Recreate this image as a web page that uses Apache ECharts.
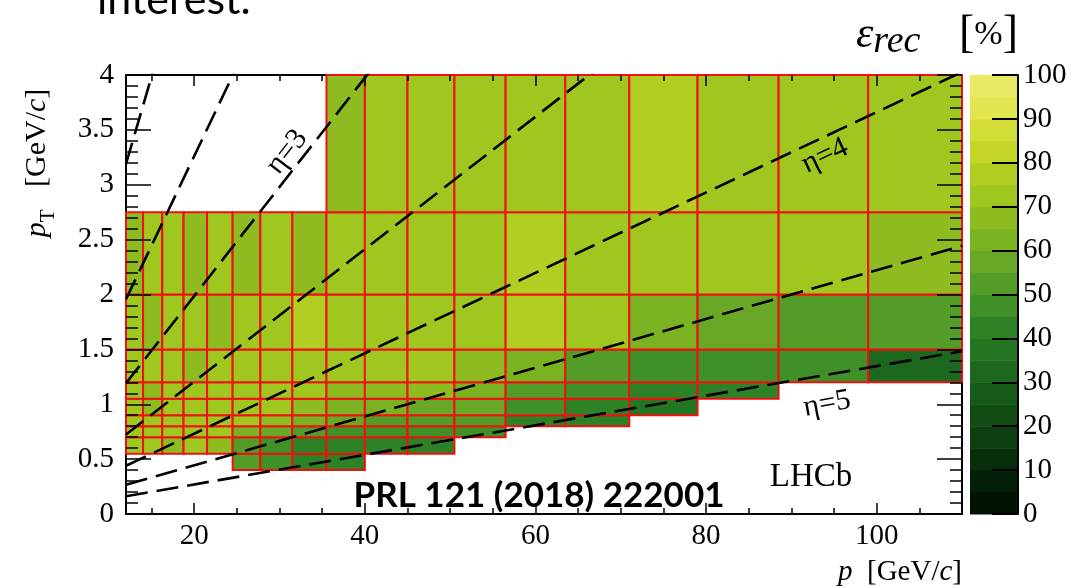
<!DOCTYPE html>
<html>
<head>
<meta charset="utf-8">
<script src="https://cdn.jsdelivr.net/npm/echarts@6/dist/echarts.min.js"></script>
<style>
  html, body { margin: 0; padding: 0; background: #fff; }
  #chart { width: 1071px; height: 587px; }
</style>
</head>
<body>
<div id="chart"></div>
<script>
// Momentum bin edges, p [GeV/c]
const pEdges = [12, 14, 16.25, 18.75, 21.5, 24.5, 27.75, 31.5, 35.5, 40, 45, 50.5, 56.5, 63.5, 71, 79, 88.5, 99, 110];
// Transverse-momentum bin edges, pT [GeV/c]
const ptEdges = [0.4, 0.55, 0.7, 0.8, 0.9, 1.05, 1.2, 1.5, 2.0, 2.75, 4.0];

// Reconstruction efficiency [%]: one row per pT bin (lowest first), one entry per p bin; null = empty bin
const effRows = [
  [null, null, null, null, null, 51, 48, 44, 42, null, null, null, null, null, null, null, null, null],
  [73, 73, 68, 73, 66, 52, 48, 44, 43, 42, 41, null, null, null, null, null, null, null],
  [72, 72, 72, 72, 71, 62, 56, 50, 48, 48, 49, 45, null, null, null, null, null, null],
  [73, 73, 72, 73, 72, 70, 66, 60, 56, 53, 54, 51, 43, 41, null, null, null, null],
  [73, 69, 73, 73, 73, 72, 71, 67, 64, 61, 59, 55, 48, 43, 39, null, null, null],
  [73, 69, 73, 73, 73, 73, 73, 72, 69, 67, 66, 61, 52, 47, 43, 41, null, null],
  [73, 74, 73, 69, 74, 74, 74, 74, 72, 71, 72, 69, 62, 51, 47, 46, 45, 32],
  [74, 68, 70, 74, 69, 74, 74, 75, 74, 74, 74, 74, 75, 72, 64, 57, 52, 51],
  [68, 74, 74, 69, 74, 68, 74, 69, 74, 73, 73, 74, 79, 74, 74, 70, 73, 66],
  [null, null, null, null, null, null, null, null, 67, 73, 73, 74, 74, 73, 77, 74, 74, 72]
];

// Constant-pseudorapidity guide lines: eta value and end points [p, pT]
const etaLines = [
  { eta: 2.0, pts: [[12, 3.19], [110, 29.24]] },
  { eta: 2.5, pts: [[12, 1.957], [110, 17.94]] },
  { eta: 3.0, pts: [[12, 1.192], [110, 10.93]] },
  { eta: 3.5, pts: [[12, 0.724], [110, 6.637]] },
  { eta: 4.0, pts: [[12, 0.4394], [110, 4.028]] },
  { eta: 4.5, pts: [[12, 0.2666], [110, 2.4437]] },
  { eta: 5.0, pts: [[12, 0.1617], [110, 1.4823]] }
];

// Axis tick values
const xMajorTicks = [20, 40, 60, 80, 100];
const xMinorTicks = [15, 25, 30, 35, 45, 50, 55, 65, 70, 75, 85, 90, 95, 105];
// Colour-scale contour levels [%]
const zLevels = [0, 5, 10, 15, 20, 25, 30, 35, 40, 45, 50, 55, 60, 65, 70, 75, 80, 85, 90, 95];

// Contour palette, one colour per 5 % band (dark green -> light yellow)
const palette = ['#021204', '#052008', '#082e0c', '#0c3e10', '#104c14', '#165a1a', '#1c681e', '#247622',
  '#2e8226', '#409028', '#549c28', '#68a826', '#7ab222', '#8ebc20', '#a0c620', '#b2ce23',
  '#c3d628', '#d2de37', '#e2e650', '#e9ea64'];
const bandColor = v => palette[Math.max(0, Math.min(palette.length - 1, Math.floor(v / 5)))];

const SERIF = '"Liberation Serif", "DejaVu Serif", serif';
const SANS = 'Lato, "Open Sans", sans-serif';
const TICK_FONT = 29;

// Cells: [p0, p1, pT0, pT1, eff]
const cells = [];
effRows.forEach((row, j) => {
  row.forEach((v, i) => {
    if (v !== null) cells.push([pEdges[i], pEdges[i + 1], ptEdges[j], ptEdges[j + 1], v]);
  });
});

const X_MIN = 12, X_MAX = 110, Y_MIN = 0, Y_MAX = 4;

function xAxisDef(position, opts) {
  return Object.assign({
    type: 'value', gridIndex: 0, position, min: X_MIN, max: X_MAX,
    splitLine: { show: false },
    axisLine: { show: false, onZero: false },
    axisTick: { show: false },
    axisLabel: { show: false }
  }, opts);
}
function yAxisDef(position, opts) {
  return Object.assign({
    type: 'value', gridIndex: 0, position, min: Y_MIN, max: Y_MAX, interval: 0.5,
    splitLine: { show: false },
    axisLine: { show: false, onZero: false },
    axisTick: { show: false },
    minorTick: { show: false },
    axisLabel: { show: false }
  }, opts);
}
const frameLine = { show: true, onZero: false, lineStyle: { color: '#000', width: 2 } };
const tickStyle = { color: '#000', width: 1.5 };

const xAxes = [];
['bottom', 'top'].forEach(pos => {
  xAxes.push(xAxisDef(pos, {
    z: 1, axisLine: frameLine,
    axisLabel: pos === 'bottom'
      ? { show: true, customValues: xMajorTicks, margin: 8, fontFamily: SERIF, fontSize: TICK_FONT, color: '#000' }
      : { show: false }
  }));
  xAxes.push(xAxisDef(pos, { z: 30, axisTick: { show: true, inside: true, length: 11, customValues: xMajorTicks, lineStyle: tickStyle } }));
  xAxes.push(xAxisDef(pos, { z: 30, axisTick: { show: true, inside: true, length: 6, customValues: xMinorTicks, lineStyle: tickStyle } }));
});
// colour-bar x axis (hidden)
xAxes.push({ type: 'value', gridIndex: 1, min: 0, max: 1, show: false });
const CB_X = xAxes.length - 1;

const yAxes = [];
['left', 'right'].forEach(pos => {
  yAxes.push(yAxisDef(pos, {
    z: 1, axisLine: frameLine,
    axisLabel: pos === 'left'
      ? { show: true, margin: 12, fontFamily: SERIF, fontSize: TICK_FONT, color: '#000' }
      : { show: false }
  }));
  yAxes.push(yAxisDef(pos, {
    z: 30,
    axisTick: { show: true, inside: true, length: 25, lineStyle: tickStyle },
    minorTick: { show: true, splitNumber: 5, length: 12, lineStyle: tickStyle }
  }));
});
// colour-bar axis
yAxes.push({
  type: 'value', gridIndex: 1, position: 'right', min: 0, max: 100, interval: 10,
  splitLine: { show: false },
  axisLine: { show: true, onZero: false, lineStyle: { color: '#000', width: 2 } },
  axisTick: { show: true, inside: true, length: 26, lineStyle: { color: '#000', width: 2 } },
  axisLabel: { show: true, margin: 5, fontFamily: SERIF, fontSize: TICK_FONT, color: '#000' },
  z: 30
});
const CB_Y = yAxes.length - 1;

const series = [
  {
    type: 'custom', name: 'efficiency', xAxisIndex: 0, yAxisIndex: 0, z: 20,
    data: cells,
    encode: { x: [0, 1], y: [2, 3] },
    renderItem(params, api) {
      const a = api.coord([api.value(0), api.value(3)]);
      const b = api.coord([api.value(1), api.value(2)]);
      return {
        type: 'rect',
        shape: { x: a[0], y: a[1], width: b[0] - a[0], height: b[1] - a[1] },
        style: { fill: bandColor(api.value(4)), stroke: '#f01010', lineWidth: 2 }
      };
    }
  },
  {
    type: 'custom', name: 'scale', xAxisIndex: CB_X, yAxisIndex: CB_Y, z: 20,
    data: zLevels.map(l => [l]),
    renderItem(params, api) {
      const lo = api.value(0);
      const a = api.coord([0, lo + 5]);
      const b = api.coord([1, lo]);
      return {
        type: 'rect',
        shape: { x: a[0], y: a[1], width: b[0] - a[0], height: b[1] - a[1] + 0.5 },
        style: { fill: bandColor(lo + 2.5) }
      };
    }
  }
];
etaLines.forEach(l => {
  series.push({
    type: 'line', name: 'eta=' + l.eta, xAxisIndex: 0, yAxisIndex: 0, z: 25,
    data: l.pts, clip: true, symbol: 'none', silent: true,
    lineStyle: { color: '#000', width: 2.6, type: [22, 9] }
  });
});

const etaLabel = (txt, x, y, deg) => ({
  type: 'text', x, y, rotation: deg * Math.PI / 180, z: 40,
  style: { text: txt, x: 0, y: 0, align: 'center', verticalAlign: 'middle', fontFamily: SERIF, fontSize: 30, fill: '#000' }
});

const option = {
  animation: false,
  backgroundColor: '#fff',
  grid: [
    { left: 126, top: 75, width: 836, height: 439 },
    { left: 970, top: 75, width: 48, height: 439 }
  ],
  xAxis: xAxes,
  yAxis: yAxes,
  series,
  graphic: [
    { type: 'text', x: 97, y: 0, z: 40,
      style: { text: 'interest.', x: 0, y: 0, align: 'left', verticalAlign: 'middle', fontFamily: SANS, fontSize: 43, fill: '#000' } },
    { type: 'text', x: 539, y: 496, z: 40,
      style: { text: 'PRL 121 (2018) 222001', x: 0, y: 0, align: 'center', verticalAlign: 'middle', fontFamily: SANS, fontWeight: 'bold', fontSize: 35, fill: '#000' } },
    { type: 'text', x: 811, y: 477, z: 40,
      style: { text: 'LHCb', x: 0, y: 0, align: 'center', verticalAlign: 'middle', fontFamily: SERIF, fontSize: 33, fill: '#000' } },
    etaLabel('η=3', 287, 152, 52),
    etaLabel('η=4', 825, 156, 25),
    etaLabel('η=5', 827, 404, 10),
    // y-axis title
    { type: 'text', x: 37, y: 163, rotation: Math.PI / 2, z: 40,
      style: {
        text: '{i|p}{s|T}{n|   [GeV/}{i|c}{n|]}', x: 0, y: 0, align: 'center', verticalAlign: 'middle',
        rich: {
          i: { fontFamily: SERIF, fontStyle: 'italic', fontSize: 30, lineHeight: 44, verticalAlign: 'middle', fill: '#000' },
          n: { fontFamily: SERIF, fontSize: 30, lineHeight: 44, verticalAlign: 'middle', fill: '#000' },
          s: { fontFamily: SERIF, fontSize: 21, lineHeight: 18, verticalAlign: 'bottom', fill: '#000' }
        }
      } },
    // x-axis title
    { type: 'text', x: 962, y: 572, z: 40,
      style: {
        text: '{i|p}{n|  [GeV/}{i|c}{n|]}', x: 0, y: 0, align: 'right', verticalAlign: 'middle',
        rich: {
          i: { fontFamily: SERIF, fontStyle: 'italic', fontSize: 29, fill: '#000' },
          n: { fontFamily: SERIF, fontSize: 29, fill: '#000' }
        }
      } },
    // colour-scale title
    { type: 'text', x: 856, y: 35, z: 40,
      style: {
        text: '{i|ε}{s|rec}', x: 0, y: 0, align: 'left', verticalAlign: 'middle',
        rich: {
          i: { fontFamily: SERIF, fontStyle: 'italic', fontSize: 44, lineHeight: 52, verticalAlign: 'middle', fill: '#000' },
          s: { fontFamily: SERIF, fontStyle: 'italic', fontSize: 38, lineHeight: 28, verticalAlign: 'bottom', fill: '#000' }
        }
      } },
    { type: 'text', x: 1018, y: 35, z: 40,
      style: {
        text: '{b|[}{n|%}{b|]}', x: 0, y: 0, align: 'right', verticalAlign: 'middle',
        rich: {
          b: { fontFamily: SERIF, fontSize: 46, lineHeight: 50, verticalAlign: 'middle', fill: '#000' },
          n: { fontFamily: SERIF, fontSize: 34, lineHeight: 50, verticalAlign: 'middle', fill: '#000' }
        }
      } }
  ]
};

const chart = echarts.init(document.getElementById('chart'), null, { renderer: 'canvas' });
chart.setOption(option);
</script>
</body>
</html>
